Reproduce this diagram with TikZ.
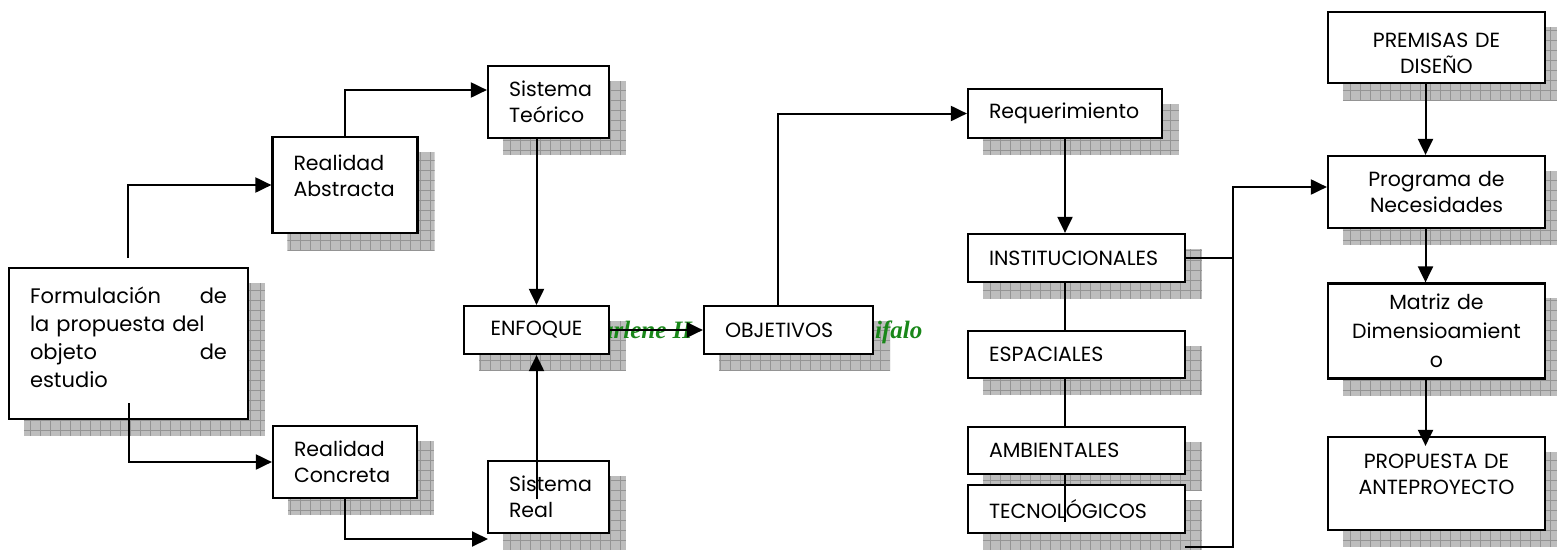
\documentclass[tikz,border=0pt]{standalone}
\usepackage{fontspec}
\setmainfont{Poppins}
\newfontfamily\firmafont{Liberation Serif}
\usetikzlibrary{calc,arrows.meta}

\definecolor{verdefirma}{RGB}{25,135,25}

\pgfdeclarelayer{sombras}
\pgfdeclarelayer{firma}
\pgfsetlayers{sombras,firma,main}

\tikzset{
  caja/.style={draw, fill=white, line width=2.2pt, inner xsep=21pt, inner ysep=0pt,
    align=left, font=\fontsize{20.5}{26}\selectfont},
  cajac/.style={caja, align=center},
  flecha/.style={line width=2pt, -{Triangle[length=16pt,width=15pt]}},
  linea/.style={line width=2pt},
  sombrafondo/.style={fill=black!26},
  sombrarejilla/.style={draw=black!42, line width=0.8pt},
  firmatexto/.style={text=verdefirma, inner sep=0pt,
    font=\firmafont\bfseries\itshape\fontsize{25}{25}\selectfont}
}

% sombra cuadriculada detras de cada caja
\newcommand{\sombra}[1]{%
  \begin{pgfonlayer}{sombras}
    \begin{scope}
      \clip ($(#1.south west)+(16,16)$) rectangle ($(#1.north east)+(16,16)$);
      \fill[sombrafondo] ($(#1.south west)+(16,16)$) rectangle ($(#1.north east)+(16,16)$);
      \draw[sombrarejilla, step=10pt] ($(#1.south west)+(16,16)$) grid ($(#1.north east)+(16,16)$);
    \end{scope}
  \end{pgfonlayer}}

\begin{document}
\begin{tikzpicture}[x=1pt, y=-1pt]
  \useasboundingbox (0,0) rectangle (1557,549);

  %%%%% CAJAS %%%%%
  \node[caja, text width=197pt, minimum height=151pt, font=\fontsize{21}{28}\selectfont] (form) at (128.5,343.5)
    {Formulación\hfill de\\la propuesta del\\objeto\hfill de\\estudio\\[-16pt]\mbox{}};

  \node[caja, text width=103pt, minimum height=96pt] (ra) at (345,185) {Realidad\\Abstracta\\[-8pt]\mbox{}};
  \node[caja, text width=102pt, minimum height=72pt] (rc) at (345,462) {Realidad\\Concreta};
  \node[caja, text width=79pt, minimum height=72pt] (st) at (548.5,102) {Sistema\\Teórico};
  \node[caja, text width=79pt, minimum height=72pt] (sr) at (548.5,497) {Sistema\\Real};

  \node[cajac, text width=103pt, minimum height=48pt] (enf) at (536.5,330) {ENFOQUE};
  \node[caja, text width=127pt, minimum height=48pt] (obj) at (788.5,330) {OBJETIVOS};

  \node[caja, text width=152pt, minimum height=49pt] (req) at (1065,113.5) {Requerimiento};
  \node[caja, text width=175pt, minimum height=48pt] (inst) at (1076.5,258) {INSTITUCIONALES};
  \node[caja, text width=175pt, minimum height=47pt] (esp) at (1076.5,354.5) {ESPACIALES};
  \node[caja, text width=175pt, minimum height=47pt] (amb) at (1076.5,450.5) {AMBIENTALES};
  \node[caja, text width=175pt, minimum height=48pt] (tec) at (1076.5,509) {TECNOLÓGICOS};

  \node[cajac, text width=175pt, minimum height=71pt] (prem) at (1436.5,47.5) {\mbox{}\\PREMISAS DE\\DISEÑO};
  \node[cajac, text width=175pt, minimum height=72pt] (prog) at (1436.5,192) {Programa de\\Necesidades};
  \node[cajac, text width=175pt, minimum height=95pt, font=\fontsize{20.5}{29}\selectfont] (mat) at (1436.5,331)
    {Matriz de\\Dimensioamient\\o};
  \node[cajac, text width=175pt, minimum height=93pt] (prop) at (1436.5,483.5) {PROPUESTA DE\\ANTEPROYECTO\\[-7pt]\mbox{}};

  \foreach \c in {form,ra,rc,st,sr,enf,obj,req,inst,esp,amb,tec,prem,prog,mat,prop}
    {\sombra{\c}}

  % firma verde medio tapada por las cajas
  \begin{pgfonlayer}{firma}
    \node[firmatexto, anchor=base west] (firma1) at (601,338) {arlene H};
    \node[firmatexto, anchor=base west] (firma2) at (875,338) {ifalo};
  \end{pgfonlayer}

  %%%%% CONECTORES %%%%%
  \coordinate (fa) at (128,258);
  \coordinate (srin) at (488,539);
  \coordinate (srup) at (537,499);
  \coordinate (tecfin) at (1065,522);
  \coordinate (tecsal) at (1185,547);
  \coordinate (bus) at (1233,187);

  \draw[flecha] (fa) |- (ra.west);
  \draw[flecha] ($(form.south)+(0,-17)$) |- (rc.west);
  \draw[flecha] (ra.north) |- ($(st.west)+(0,-12)$);
  \draw[flecha] (rc.south) |- (srin);
  \draw[flecha] (enf.north |- st.south) -- (enf.north);
  \draw[flecha] (srup -| enf.south) -- (enf.south);
  \draw[flecha] (enf.east) -- (obj.west);
  \draw[flecha] ($(obj.north)+(-11,0)$) |- (req.west);
  \draw[flecha] (req.south) -- (req.south |- inst.north);
  \draw[linea] (req.south |- inst.south) -- (req.south |- esp.north);
  \draw[linea] (req.south |- esp.south) -- (req.south |- amb.north);
  \draw[linea] (req.south |- amb.south) -- (tecfin);
  \draw[linea] (inst.east) -- (inst.east -| bus);
  \draw[flecha] (tecsal) -| (bus) -- (bus -| prog.west);
  \draw[flecha] ($(prem.south)+(-11,0)$) -- ($(prog.north)+(-11,0)$);
  \draw[flecha] ($(prog.south)+(-11,0)$) -- ($(mat.north)+(-11,0)$);
  \draw[flecha] ($(mat.south)+(-11,0)$) -- ($(prop.north)+(-11,10)$);
\end{tikzpicture}
\end{document}
